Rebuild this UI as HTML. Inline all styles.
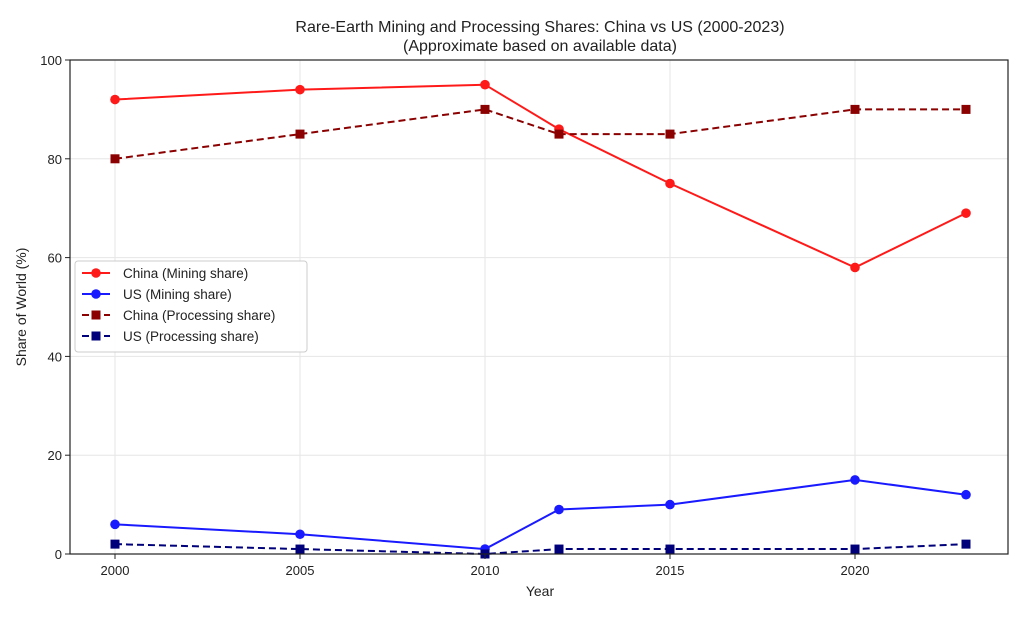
<!DOCTYPE html>
<html><head><meta charset="utf-8"><style>
body{margin:0;background:#fff;}
svg text{font-family:"Liberation Sans","DejaVu Sans",sans-serif;fill:#222;}
</style></head><body>
<svg id="chart" width="1024" height="614" viewBox="0 0 1024 614">
<text x="540" y="32" font-size="16" text-anchor="middle">Rare-Earth Mining and Processing Shares: China vs US (2000-2023)</text>
<text x="540" y="51" font-size="16" text-anchor="middle">(Approximate based on available data)</text>
<g id="grid"></g>
<g id="series"></g>
<rect x="70" y="60" width="938" height="494" fill="none" stroke="#222" stroke-width="1.2"/>
<g id="axes"></g>
<text x="540" y="596" font-size="14" text-anchor="middle">Year</text>
<text transform="translate(26,307) rotate(-90)" font-size="14" text-anchor="middle">Share of World (%)</text>
<g id="legend">
<rect x="75" y="261" width="232" height="91" fill="#fff" fill-opacity="0.85" stroke="#ccc" rx="3"/>
</g>
</svg>
<script>
const years=[2000,2005,2010,2012,2015,2020,2023];
const chinaMining=[92,94,95,86,75,58,69];
const usMining=[6,4,1,9,10,15,12];
const chinaProcessing=[80,85,90,85,85,90,90];
const usProcessing=[2,1,0,1,1,1,2];
const xTicks=[2000,2005,2010,2015,2020];
const yTicks=[0,20,40,60,80,100];
const NS="http://www.w3.org/2000/svg";
const X=v=>115+(v-2000)*37;
const Y=v=>554-v*4.94;
function mk(t,a,p){const e=document.createElementNS(NS,t);for(const k in a)e.setAttribute(k,a[k]);p.appendChild(e);return e;}
const grid=document.getElementById('grid'),axes=document.getElementById('axes'),ser=document.getElementById('series'),leg=document.getElementById('legend');
xTicks.forEach(t=>{
 const g=mk('line',{x1:X(t),x2:X(t),y1:60,y2:554,stroke:'#e6e6e6'},grid);
 
 
 mk('line',{x1:X(t),x2:X(t),y1:554,y2:559,stroke:'#222'},axes);
 const tx=mk('text',{x:X(t),y:575,'font-size':13,'text-anchor':'middle'},axes);tx.textContent=t;
 
 
});
yTicks.forEach(t=>{
 const g=mk('line',{x1:70,x2:1008,y1:Y(t),y2:Y(t),stroke:'#e6e6e6'},grid);
 
 
 mk('line',{x1:65,x2:70,y1:Y(t),y2:Y(t),stroke:'#222'},axes);
 const tx=mk('text',{x:62,y:Y(t)+5,'font-size':13,'text-anchor':'end'},axes);tx.textContent=t;
 
 
});
const S=[
 {d:chinaMining,c:'#ff1a1a',dash:'',m:'o',n:'China (Mining share)',id:'china-mining'},
 {d:usMining,c:'#1a1aff',dash:'',m:'o',n:'US (Mining share)',id:'us-mining'},
 {d:chinaProcessing,c:'#8b0000',dash:'7,4',m:'s',n:'China (Processing share)',id:'china-processing'},
 {d:usProcessing,c:'#00007a',dash:'7,4',m:'s',n:'US (Processing share)',id:'us-processing'}];
function marker(s,x,y,p){
 return s.m==='o'?mk('circle',{cx:x,cy:y,r:4.8,fill:s.c},p):mk('rect',{x:x-4.5,y:y-4.5,width:9,height:9,fill:s.c},p);
}
S.forEach((s,i)=>{
 const g=mk('g',{},ser);
 
 
 const l=mk('polyline',{points:s.d.map((v,j)=>X(years[j])+','+Y(v)).join(' '),fill:'none',stroke:s.c,'stroke-width':2,'stroke-dasharray':s.dash},g);
 
 
 s.d.forEach((v,j)=>{const m=marker(s,X(years[j]),Y(v),g);
  
  });
 const ly=273+i*21;
 const le=mk('g',{},leg);
 
 
 mk('line',{x1:82,x2:110,y1:ly,y2:ly,stroke:s.c,'stroke-width':2,'stroke-dasharray':s.dash},le);
 marker(s,96,ly,le);
 const t=mk('text',{x:123,y:ly+5,'font-size':13.5},le);t.textContent=s.n;
});
</script>
</body></html>
